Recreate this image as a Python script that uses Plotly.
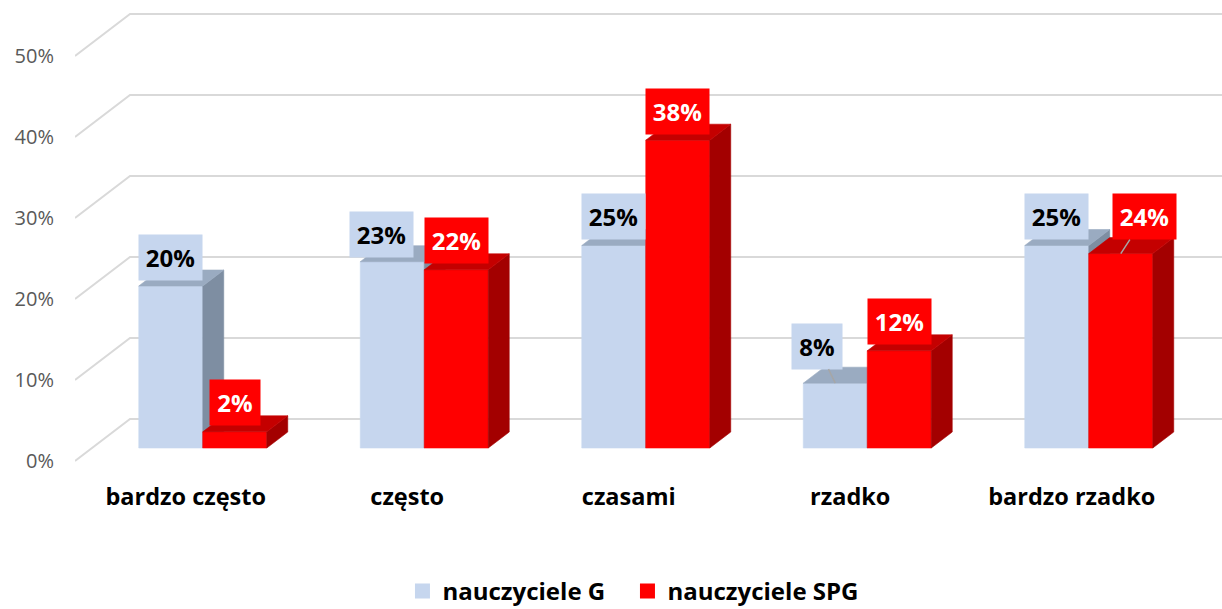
import plotly.graph_objects as go

# ---- data ----
categories = ["bardzo często", "często", "czasami", "rzadko", "bardzo rzadko"]
series_names = ["nauczyciele G", "nauczyciele SPG"]
values_g = [20, 23, 25, 8, 25]
values_spg = [2, 22, 38, 12, 24]
y_ticks = [0, 10, 20, 30, 40, 50]
y_tick_labels = ["0%", "10%", "20%", "30%", "40%", "50%"]

# ---- styling ----
FONT = "Open Sans"
G_FRONT, G_SIDE, G_TOP = "#c6d6ee", "#7e8ea2", "#9aabc1"
S_FRONT, S_SIDE, S_TOP = "#ff0000", "#a30000", "#c40000"
GRID = "#d9d9d9"

# ---- oblique projection helpers (1 category = 221.5 px, 1 % = 8.1 px) ----
PX_PER_CAT = 221.5
PX_PER_PCT = 8.1
SLANT = 1.31  # horizontal shift per vertical pixel of depth


def depth(d):
    """Offset in data units for a depth of d (vertical pixels)."""
    return d * SLANT / PX_PER_CAT, d / PX_PER_PCT


BAR_W = 64 / PX_PER_CAT
FRONT_DX, FRONT_DY = depth(13)
DEPTH_DX, DEPTH_DY = depth(16)
WALL_DX, WALL_DY = depth(42)

W, H = 1222, 609
M_L, M_B = 75, 131
X_MIN = -0.5
X_MAX = X_MIN + (W - M_L) / PX_PER_CAT
Y_MAX = 461 / PX_PER_PCT
Y_MIN = Y_MAX - (H - M_B) / PX_PER_PCT

fig = go.Figure()

# gridlines: front diagonal + back wall
gx, gy = [], []
for v in y_ticks:
    gx += [X_MIN, X_MIN + WALL_DX, X_MAX, None]
    gy += [v, v + WALL_DY, v + WALL_DY, None]
fig.add_trace(go.Scatter(x=gx, y=gy, mode="lines", line=dict(color=GRID, width=2),
                         hoverinfo="skip", showlegend=False))


def face(xs, ys, color):
    fig.add_trace(go.Scatter(
        x=xs + [xs[0]], y=ys + [ys[0]], mode="lines", fill="toself",
        fillcolor=color, line=dict(color=color, width=0.6),
        hoverinfo="skip", showlegend=False))


def bar3d(x_left, v, front, side, top):
    x_right = x_left + BAR_W
    y0 = FRONT_DY
    y1 = FRONT_DY + v
    # front face
    face([x_left, x_right, x_right, x_left], [y0, y0, y1, y1], front)
    # right side face
    face([x_right, x_right + DEPTH_DX, x_right + DEPTH_DX, x_right],
         [y0, y0 + DEPTH_DY, y1 + DEPTH_DY, y1], side)
    # top face
    face([x_left, x_right, x_right + DEPTH_DX, x_left + DEPTH_DX],
         [y1, y1, y1 + DEPTH_DY, y1 + DEPTH_DY], top)


for i in range(len(categories)):
    bar3d(i + FRONT_DX - BAR_W, values_g[i], G_FRONT, G_SIDE, G_TOP)
    bar3d(i + FRONT_DX, values_spg[i], S_FRONT, S_SIDE, S_TOP)

# legend entries (the last, blank one only reserves room for the second label)
fig.add_trace(go.Scatter(x=[None], y=[None], mode="markers", name=series_names[0],
                         marker=dict(symbol="square", size=15, color=G_FRONT)))
fig.add_trace(go.Scatter(x=[None], y=[None], mode="markers", name=series_names[1],
                         marker=dict(symbol="square", size=15, color=S_FRONT)))
fig.add_trace(go.Scatter(x=[None], y=[None], mode="markers", name=" ",
                         marker=dict(symbol="square", size=1, color="rgba(0,0,0,0)")))

# data labels (pixel offsets of the label box from the bar's front top edge)
label_shift = {
    (0, 1): dict(xshift=-11, yshift=27),
}
label_arrow = {
    (0, 3): dict(ax=-18, ay=-37),
    (1, 4): dict(ax=24, ay=-37),
}
for s, (vals, bg, fg) in enumerate([(values_g, G_FRONT, "black"),
                                    (values_spg, S_FRONT, "white")]):
    for i, v in enumerate(vals):
        xc = i + FRONT_DX + (BAR_W / 2 if s else -BAR_W / 2)
        txt = f"{v}%"
        common = dict(x=xc, y=FRONT_DY + v, text=txt, bgcolor=bg,
                      borderpad=6, width=13 + 12.5 * len(txt),
                      font=dict(family=FONT, size=24, color=fg, weight="bold"))
        if (s, i) in label_arrow:
            fig.add_annotation(**common, showarrow=True, arrowhead=0,
                               arrowwidth=1.5, arrowcolor="#a6a6a6", standoff=0,
                               **label_arrow[(s, i)])
        else:
            sh = label_shift.get((s, i), dict(xshift=0, yshift=29))
            fig.add_annotation(**common, showarrow=False, **sh)

fig.update_layout(
    width=W, height=H,
    margin=dict(l=M_L, r=0, t=0, b=M_B, autoexpand=False),
    plot_bgcolor="white", paper_bgcolor="white",
    font=dict(family=FONT),
    xaxis=dict(range=[X_MIN, X_MAX], tickvals=list(range(len(categories))),
               ticktext=categories, showgrid=False, zeroline=False, showline=False,
               ticks="", ticklabelstandoff=2,
               tickfont=dict(family=FONT, size=23.5, color="black", weight="bold")),
    yaxis=dict(range=[Y_MIN, Y_MAX], tickvals=y_ticks, ticktext=y_tick_labels,
               showgrid=False, zeroline=False, showline=False, ticks="",
               ticklabelstandoff=20,
               tickfont=dict(family=FONT, size=20, color="#595959")),
    legend=dict(orientation="h", x=0.2855, xanchor="left", y=-0.19, yanchor="top",
                entrywidth=180, entrywidthmode="pixels",
                font=dict(family=FONT, size=24, color="black", weight="bold"),
                itemclick=False),
    showlegend=True,
)

fig.write_html("out.html")
